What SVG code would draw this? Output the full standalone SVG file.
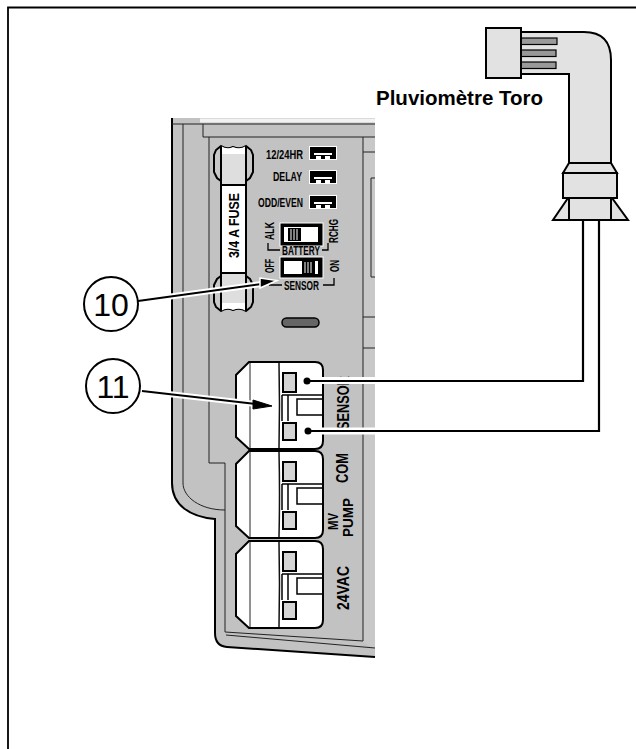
<svg xmlns="http://www.w3.org/2000/svg" width="636" height="749" viewBox="0 0 636 749">
<style>
text{font-family:"Liberation Sans",Arial,sans-serif;fill:#000}
.b{font-weight:700}
.l{fill:none;stroke:#000;stroke-width:2}
.t{fill:none;stroke:#222;stroke-width:1}
.s{font-size:13.5px;font-weight:700}
.w{fill:#fff;stroke:#000;stroke-width:2}
.g{fill:#e2e2e2;stroke:#000;stroke-width:2}
.sq{fill:#d4d4d4;stroke:#000;stroke-width:2}
.pin{fill:#999;stroke:#000;stroke-width:1.200}
.wire{fill:none;stroke:#000;stroke-width:2.200}
.halo{fill:none;stroke:#fff;stroke-width:7}
.sw{fill:#000;stroke:#fff;stroke-width:1}
.hatch{stroke:#fff;stroke-width:1;fill:none}
</style>
<defs>
<g id="term">
<path class="w" d="M13 0H79Q87 0 87 8V79Q87 87 79 87H13L0 75V13Z"/>
<path class="t" d="M14 1V86"/>
<path d="M43 1Q44 43 43 86" fill="none" stroke="#111" stroke-width="1.500"/>
<rect x="47" y="11" width="13" height="19" class="sq"/>
<rect x="47" y="61" width="13" height="17" class="sq"/>
<path d="M46 33H87M46 33V59M52 33V59M87 37H61V53H87" fill="none" stroke="#000" stroke-width="1.500"/>
</g>
<g id="jump">
<rect x="-1" y="-1" width="28" height="14" fill="#fff"/>
<rect x="0" y="0" width="26" height="12" fill="#000"/>
<path d="M4 7H22" stroke="#fff" stroke-width="2"/>
<rect x="6" y="9" width="5" height="3" fill="#fff"/>
<rect x="15" y="9" width="5" height="3" fill="#fff"/>
</g>
<g id="ear">
<path d="M221 146L216 150L214 155V172L217 178L221 181H246L250 178L253 172V155L251 150L246 146Q240 150 233 147Q227 150 221 146Z" fill="#c8c8c8" stroke="#000" stroke-width="2"/>
<path d="M221 146Q227 150 233 147Q240 150 246 146V154H221Z" fill="#fff"/>
<path d="M221 146V185M246 146V185" stroke="#000" stroke-width="2"/>
<rect x="222" y="154" width="23" height="31" fill="#dedede"/>
</g>
</defs>

<path d="M8 749V7.500H636" fill="none" stroke="#000" stroke-width="1.800"/>

<g id="panel">
<path d="M172 118H375V657L227 647Q215 646 215 633V519C190 517 172 505 172 483Z" fill="#c2c2c2"/>
<path d="M363 137H375V649L363 642Z" fill="#c8c8c8"/>
<path class="l" d="M172 118V483C172 505 190 517 215 519V633Q215 646 227 647L375 657"/>
<path d="M200 120.500H375" stroke="#f2f2f2" stroke-width="4"/>
<path class="t" d="M172 124H375M203 124V137H375M183 124V483C183 497 200 510 225 510M209 137V463H225V632L363 641V137M226 635L375 648M363 152H375M371 178H375M371 178V277H375M363 317H375M363 348H375"/>
</g>

<g id="fuse">
<use href="#ear"/>
<use href="#ear" transform="translate(0 457) scale(1 -1)"/>
<rect x="221" y="185" width="25" height="88" class="w"/>
<text class="b" font-size="15" textLength="65" lengthAdjust="spacingAndGlyphs" transform="translate(239 258) rotate(-90)">3/4 A FUSE</text>
</g>

<g id="switches">
<text class="s" x="266" y="159" textLength="37" lengthAdjust="spacingAndGlyphs">12/24HR</text>
<text class="s" x="273" y="181" textLength="29" lengthAdjust="spacingAndGlyphs">DELAY</text>
<text class="s" x="258" y="207" textLength="45" lengthAdjust="spacingAndGlyphs">ODD/EVEN</text>
<use href="#jump" x="310" y="147"/>
<use href="#jump" x="310" y="171"/>
<use href="#jump" x="310" y="196"/>
<rect x="280" y="223" width="43" height="23" class="sw"/>
<rect x="284" y="227" width="34" height="15" fill="#fff"/>
<rect x="288" y="228" width="13" height="13" fill="#000"/>
<path class="hatch" d="M291 229V240M294 229V240M297 229V240"/>
<text class="s" textLength="18" lengthAdjust="spacingAndGlyphs" transform="translate(274 240) rotate(-90)">ALK</text>
<text class="s" textLength="24" lengthAdjust="spacingAndGlyphs" transform="translate(338 243) rotate(-90)">RCHG</text>
<text class="s" x="282" y="255" textLength="38" lengthAdjust="spacingAndGlyphs">BATTERY</text>
<path d="M268 243V250H280M322 250H328V243" fill="none" stroke="#000" stroke-width="1.300"/>
<rect x="280" y="257" width="43" height="21" class="sw"/>
<rect x="284" y="261" width="34" height="13" fill="#fff"/>
<rect x="302" y="261" width="13" height="13" fill="#000"/>
<path class="hatch" d="M305 262V273M308 262V273M311 262V273"/>
<text class="s" textLength="14" lengthAdjust="spacingAndGlyphs" transform="translate(274 273) rotate(-90)">OFF</text>
<text class="s" textLength="12" lengthAdjust="spacingAndGlyphs" transform="translate(339 272) rotate(-90)">ON</text>
<text class="s" x="284" y="290" textLength="35" lengthAdjust="spacingAndGlyphs">SENSOR</text>
<path d="M269 285H282M323 285H334V278" fill="none" stroke="#000" stroke-width="1.300"/>
<rect x="282" y="318" width="37" height="9" rx="4.500" fill="#666" stroke="#000" stroke-width="1.500"/>
</g>

<g id="terminal-sensor"><use href="#term" x="236" y="362"/></g>
<g id="terminal-mv"><use href="#term" x="236" y="451"/></g>
<g id="terminal-24"><use href="#term" x="236" y="541"/></g>
<g id="terminal-labels">
<text class="b" font-size="16.500" textLength="54" lengthAdjust="spacingAndGlyphs" transform="translate(349 430) rotate(-90)">SENSOR</text>
<text class="b" font-size="16.500" textLength="30" lengthAdjust="spacingAndGlyphs" transform="translate(348 483) rotate(-90)">COM</text>
<text class="b" font-size="15" textLength="17" lengthAdjust="spacingAndGlyphs" transform="translate(338 530) rotate(-90)">MV</text>
<text class="b" font-size="15" textLength="39" lengthAdjust="spacingAndGlyphs" transform="translate(353 537) rotate(-90)">PUMP</text>
<text class="b" font-size="16.500" textLength="44" lengthAdjust="spacingAndGlyphs" transform="translate(349 610) rotate(-90)">24VAC</text>
</g>

<g id="sensor">
<path class="g" d="M512 32H584Q611 32 611 60V164H569V74H512Z"/>
<rect x="521" y="38" width="36" height="6.500" class="pin"/>
<rect x="521" y="50" width="35" height="6.500" class="pin"/>
<rect x="521" y="62" width="35" height="6.500" class="pin"/>
<rect x="486" y="28" width="35" height="50" class="g"/>
<path class="g" d="M569 163H611L617 173H563Z"/>
<path class="g" d="M568 198L553 220H628L612 198Z"/>
<rect x="569" y="198" width="42" height="22" class="g"/>
<rect x="563" y="173" width="54" height="25" class="g"/>
<text class="b" font-size="20.500" x="376" y="104.500" textLength="167" lengthAdjust="spacingAndGlyphs">Pluviomètre Toro</text>
</g>

<g id="connectors">
<path class="halo" d="M312 380.500H375M312 431H375"/>
<path class="wire" d="M583 220V381H307"/>
<path class="wire" d="M599 220V431H308"/>
<circle cx="307" cy="381" r="3.500" fill="#000"/>
<circle cx="308" cy="431" r="3.500" fill="#000"/>
<path d="M138 301L262 284" stroke="#fff" stroke-width="6"/>
<path d="M138 301L262 284" stroke="#000" stroke-width="2"/>
<path d="M260 278L277 280.500L260 288Z" fill="#000" stroke="#fff" stroke-width="1.500"/>
<path d="M142 391L256 404" stroke="#fff" stroke-width="6"/>
<path d="M142 391L256 404" stroke="#000" stroke-width="2"/>
<path d="M253 400L272 406L253 409Z" fill="#000" stroke="#000"/>
</g>

<g id="callout-10">
<circle cx="111" cy="304" r="27" fill="#fff" stroke="#000" stroke-width="2"/>
<text x="111" y="316" font-size="32" text-anchor="middle">10</text>
</g>
<g id="callout-11">
<circle cx="113" cy="386" r="27" fill="#fff" stroke="#000" stroke-width="2"/>
<text x="113" y="398" font-size="32" text-anchor="middle">11</text>
</g>
</svg>
